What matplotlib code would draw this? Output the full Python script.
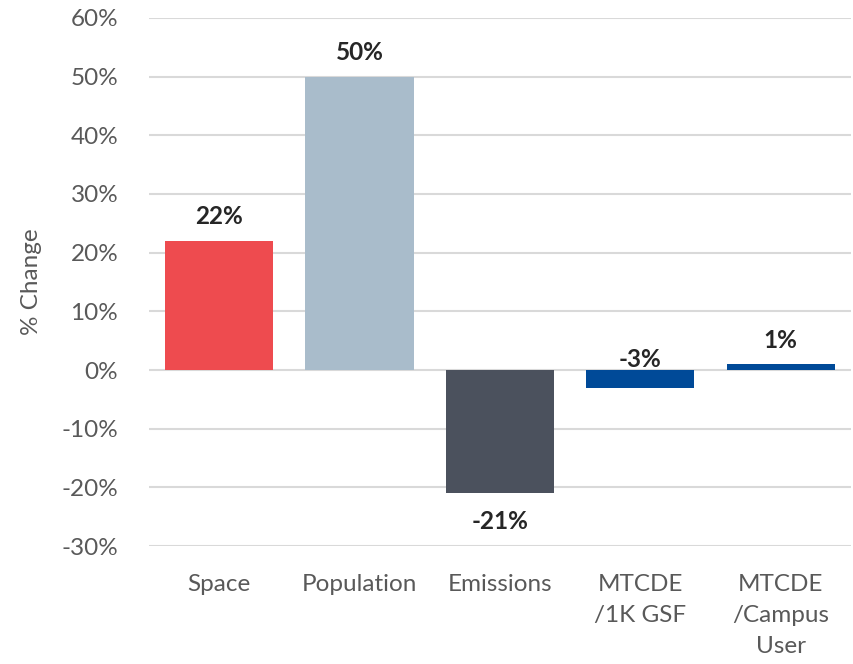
import matplotlib
matplotlib.use("Agg")
import matplotlib.pyplot as plt
from matplotlib.ticker import FuncFormatter, MultipleLocator

categories = ["Space", "Population", "Emissions", "MTCDE\n/1K GSF", "MTCDE\n/Campus\nUser"]
values = [22, 50, -21, -3, 1]
colors = ["#EE4B4F", "#A9BCCB", "#4B515D", "#004A98", "#004A98"]

plt.rcParams['font.family'] = ['Lato', 'DejaVu Sans']

fig = plt.figure(figsize=(8.54, 6.64), dpi=100)
ax = fig.add_axes([0.1742, 0.1777, 0.8223, 0.7952])

x = list(range(len(categories)))
ax.bar(x, values, width=0.77, color=colors, zorder=3)

ax.set_xlim(-0.5, len(categories) - 0.5)
ax.set_ylim(-30, 60)
ax.yaxis.set_major_locator(MultipleLocator(10))
ax.yaxis.set_major_formatter(FuncFormatter(lambda v, p: f"{int(round(v))}%"))
ax.grid(axis='y', color='#D9D9D9', linewidth=1.5, zorder=0)
ax.set_axisbelow(True)
for s in ax.spines.values():
    s.set_visible(False)
ax.tick_params(axis='both', length=0, labelsize=17.5, labelcolor='#595959')
ax.tick_params(axis='y', pad=22)
ax.tick_params(axis='x', pad=20)
ax.set_xticks(x)
ax.set_xticklabels(categories, va='top', linespacing=1.6)
ax.set_ylabel("% Change", fontsize=17.5, color='#595959', labelpad=14)

for xi, v in zip(x, values):
    if v >= 0:
        ax.annotate(f"{v}%", (xi, v), xytext=(0, 9), textcoords='offset points',
                    ha='center', va='bottom', fontsize=17.5, fontweight='bold', color='#262626')
    elif v > -5:
        ax.annotate(f"{v}%", (xi, 0), xytext=(0, -1), textcoords='offset points',
                    ha='center', va='bottom', fontsize=17.5, fontweight='bold', color='#262626', zorder=5)
    else:
        ax.annotate(f"{v}%", (xi, v), xytext=(0, -12), textcoords='offset points',
                    ha='center', va='top', fontsize=17.5, fontweight='bold', color='#262626')

fig.savefig("out.png", dpi=100)
